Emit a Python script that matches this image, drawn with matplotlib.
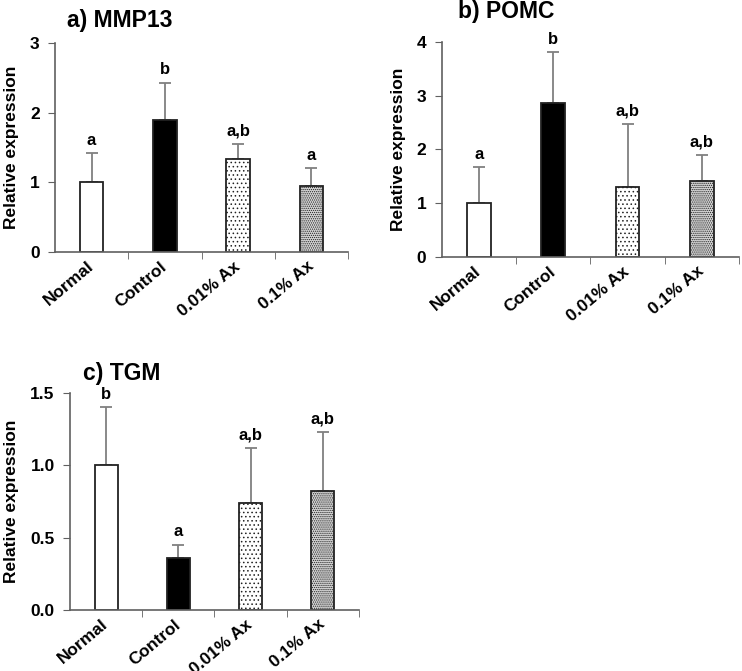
import numpy as np
import matplotlib
matplotlib.use('Agg')
import matplotlib.pyplot as plt

plt.rcParams['font.family'] = ['Liberation Sans', 'DejaVu Sans']
plt.rcParams['font.weight'] = 'bold'
plt.rcParams['hatch.linewidth'] = 0.6
plt.rcParams['hatch.color'] = '#111111'

# Data
groups = ['Normal', 'Control', '0.01% Ax', '0.1% Ax']

mmp13_mean = [1.00, 1.89, 1.33, 0.95]
mmp13_err = [0.42, 0.54, 0.22, 0.25]
mmp13_sig = ['a', 'b', 'a,b', 'a']

pomc_mean = [1.00, 2.86, 1.31, 1.41]
pomc_err = [0.67, 0.95, 1.17, 0.49]
pomc_sig = ['a', 'b', 'a,b', 'a,b']

tgm_mean = [1.00, 0.36, 0.74, 0.82]
tgm_err = [0.40, 0.09, 0.38, 0.41]
tgm_sig = ['b', 'a', 'a,b', 'a,b']

fills = ['white', 'black', 'white', '#d4d4d4']
hatches = ['', '', '....', '........']
axis_col = '#606060'


def draw_panel(ax, means, errs, sigs, title, yticks, ytick_labels, title_xy):
    x = np.arange(1, len(groups) + 1)
    for i in range(len(groups)):
        ax.bar(x[i], means[i], width=0.32, color=fills[i], edgecolor='#222222',
               linewidth=1.3, hatch=hatches[i], zorder=2)
    ax.errorbar(x, means, yerr=[np.zeros(len(errs)), errs], fmt='none',
                ecolor='#808080', elinewidth=1.3, capsize=4, capthick=1.3, zorder=1)
    for xi, m, e, s in zip(x, means, errs, sigs):
        ax.annotate(s, (xi, m + e), xytext=(0, 4), textcoords='offset points',
                    ha='center', va='bottom', fontsize=12, fontweight='bold')

    ax.set_xlim(0.5, len(groups) + 0.5)
    ax.set_ylim(yticks[0], yticks[-1])
    ax.set_yticks(yticks)
    ax.set_yticklabels(ytick_labels, fontsize=12.5, fontweight='bold')
    ax.set_xticks(x)
    ax.set_xticklabels(groups, rotation=40, ha='right', va='center',
                       rotation_mode='anchor', fontsize=12.5, fontweight='bold')
    ax.tick_params(axis='x', which='major', length=0, pad=9)
    ax.set_xticks(x + 0.5, minor=True)
    ax.tick_params(axis='x', which='minor', length=5, color=axis_col, direction='out')
    ax.tick_params(axis='y', length=5, color=axis_col, direction='out', pad=6)
    ax.set_ylabel('Relative expression', fontsize=12.5, fontweight='bold', labelpad=8)

    for side in ['top', 'right']:
        ax.spines[side].set_visible(False)
    for side in ['left', 'bottom']:
        ax.spines[side].set_color(axis_col)
        ax.spines[side].set_linewidth(1.2)
    ax.spines['left'].set_zorder(3)

    ax.text(title_xy[0], title_xy[1], title, transform=ax.transAxes,
            ha='left', va='center', fontsize=16.5, fontweight='bold')


fig = plt.figure(figsize=(7.42, 6.71), dpi=100)

ax_a = fig.add_axes([0.0741, 0.6244, 0.395, 0.3115])
draw_panel(ax_a, mmp13_mean, mmp13_err, mmp13_sig, 'a) MMP13',
           [0, 1, 2, 3], ['0', '1', '2', '3'], (0.04, 1.11))

ax_b = fig.add_axes([0.5953, 0.617, 0.4007, 0.3204])
draw_panel(ax_b, pomc_mean, pomc_err, pomc_sig, 'b) POMC',
           [0, 1, 2, 3, 4], ['0', '1', '2', '3', '4'], (0.054, 1.14))

ax_c = fig.add_axes([0.0943, 0.0909, 0.3895, 0.3234])
draw_panel(ax_c, tgm_mean, tgm_err, tgm_sig, 'c) TGM',
           [0, 0.5, 1.0, 1.5], ['0.0', '0.5', '1.0', '1.5'], (0.045, 1.088))

fig.savefig('out.png', dpi=100)
